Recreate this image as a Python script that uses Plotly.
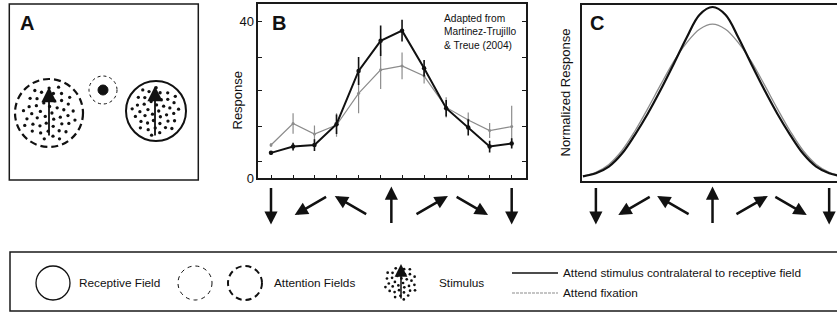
import numpy as np
import plotly.graph_objects as go

W, H = 837, 318
FONT = "Liberation Sans, Arial, sans-serif"
INK = "#111111"
GREY = "#8c8c8c"

# ---------------- Panel B data (Martinez-Trujillo & Treue 2004) ----------------
directions_b = [-180, -147, -115, -82, -49, -16, 16, 49, 82, 115, 147, 180]
attend_contra = [6.5, 8.1, 8.5, 13.8, 27.4, 35.1, 37.7, 28.1, 17.9, 13.0, 8.1, 8.9]
attend_contra_err = [0.5, 1.0, 1.5, 2.5, 3.6, 3.9, 2.8, 2.1, 2.1, 2.1, 1.5, 1.3]
attend_fix = [8.5, 14.0, 11.3, 13.6, 21.7, 27.7, 28.7, 26.1, 18.1, 14.9, 12.2, 13.2]
attend_fix_err = [0.5, 2.6, 2.2, 3.0, 5.1, 4.9, 3.4, 1.9, 2.6, 1.9, 1.9, 5.3]
yticks_b = [0, 4.24, 13.18, 22.3, 30.9, 40]
yticklabels_b = ["0", "", "", "", "", "40"]

# ---------------- Panel C data (normalized model responses) ----------------
directions_c = [-200, -180, -160, -140, -120, -100, -80, -60, -40, -20, 0,
                20, 40, 60, 80, 100, 120, 140, 160, 180, 200]
model_contra = [0.008, 0.026, 0.065, 0.14, 0.25, 0.375, 0.515, 0.665, 0.82, 0.955, 1.0,
                0.955, 0.82, 0.665, 0.515, 0.375, 0.25, 0.14, 0.065, 0.026, 0.008]
model_fix = [0.01, 0.032, 0.078, 0.158, 0.272, 0.405, 0.545, 0.68, 0.79, 0.87, 0.90,
             0.87, 0.79, 0.68, 0.545, 0.405, 0.272, 0.158, 0.078, 0.032, 0.01]

# motion directions shown as arrows under panels B and C
arrow_dirs = [-180, -120, -60, 0, 60, 120, 180]

legend_labels = ["Receptive Field", "Attention Fields", "Stimulus",
                 "Attend stimulus contralateral to receptive field", "Attend fixation"]


def fy(py):
    return 1 - py / H


fig = go.Figure()

# ---------- Panel B ----------
fig.add_trace(go.Scatter(
    x=directions_b, y=attend_fix, mode="lines+markers",
    line=dict(color=GREY, width=1.2), marker=dict(color=GREY, size=3),
    error_y=dict(type="data", array=attend_fix_err, thickness=1.2, width=0, color=GREY),
    xaxis="x", yaxis="y", showlegend=False))
fig.add_trace(go.Scatter(
    x=directions_b, y=attend_contra, mode="lines+markers",
    line=dict(color=INK, width=2), marker=dict(color=INK, size=4.5),
    error_y=dict(type="data", array=attend_contra_err, thickness=1.6, width=0, color=INK),
    xaxis="x", yaxis="y", showlegend=False))

# ---------- Panel C ----------
fig.add_trace(go.Scatter(
    x=directions_c, y=model_fix, mode="lines", line=dict(color=GREY, width=1.3, shape="spline"),
    xaxis="x2", yaxis="y2", showlegend=False))
fig.add_trace(go.Scatter(
    x=directions_c, y=model_contra, mode="lines", line=dict(color=INK, width=2.2, shape="spline"),
    xaxis="x2", yaxis="y2", showlegend=False))

# ---------- Panel A / legend schematic (pixel-space overlay axes) ----------
def dot_cloud(cx, cy, R, n):
    i = np.arange(n)
    r = R * np.sqrt((i + 0.5) / n)
    t = i * np.radians(137.508)
    return cx + r * np.cos(t), cy + r * np.sin(t)

shapes = []
annotations = []

stimuli = [(49, 113, 28, 46, 3.3), (156, 111, 25, 42, 3.3), (401, 283, 17, 34, 2.7)]
for cx, cy, R, n, sz in stimuli:
    xs, ys = dot_cloud(cx, cy, R, n)
    fig.add_trace(go.Scatter(x=xs, y=ys, mode="markers", marker=dict(color=INK, size=sz),
                             xaxis="x3", yaxis="y3", showlegend=False, hoverinfo="skip"))

def circle(cx, cy, r, width, dash="solid"):
    return dict(type="circle", xref="x3", yref="y3", x0=cx - r, x1=cx + r, y0=cy - r, y1=cy + r,
                line=dict(color=INK, width=width, dash=dash))

def rect(x0, y0, x1, y1):
    return dict(type="rect", xref="x3", yref="y3", x0=x0, x1=x1, y0=y0, y1=y1,
                line=dict(color="#1a1a1a", width=1.5))

shapes += [
    rect(9.3, 4, 198.3, 180),
    circle(49, 113, 34, 2.2, "7px,4px"),
    circle(103, 90, 14, 1, "3px,3px"),
    dict(type="circle", xref="x3", yref="y3", x0=98, x1=108, y0=85, y1=95,
         fillcolor=INK, line=dict(color=INK, width=1)),
    circle(156, 111, 30, 2),
    # legend box
    rect(10, 252, 850, 311),
    circle(53, 283, 17, 1.3),
    circle(195, 283, 17, 1, "4px,4px"),
    circle(245, 283, 17, 2, "6px,4px"),
    dict(type="line", xref="x3", yref="y3", x0=512, x1=558, y0=273, y1=273,
         line=dict(color=INK, width=1.6)),
    dict(type="line", xref="x3", yref="y3", x0=512, x1=558, y0=293, y1=293,
         line=dict(color=GREY, width=1.2, dash="3px,1px")),
]

# stimulus arrows (pointing up)
for x, ytail, yhead, w in [(49, 137, 87, 1.8), (155, 137, 86, 1.8), (401, 300, 264, 1.5)]:
    annotations.append(dict(x=x, y=yhead, xref="x3", yref="y3", ax=x, ay=ytail,
                            axref="x3", ayref="y3", showarrow=True, arrowhead=2,
                            arrowsize=1.7, arrowwidth=w, arrowcolor=INK, text=""))

# direction arrows under B and C
L = 38
for xref in ["x", "x2"]:
    for d in arrow_dirs:
        s, c = np.sin(np.radians(d)), np.cos(np.radians(d))
        annotations.append(dict(x=d, xref=xref, y=fy(205.5), yref="paper",
                                xshift=L / 2 * s, yshift=L / 2 * c,
                                ax=-L * s, ay=L * c, axref="pixel", ayref="pixel",
                                showarrow=True, arrowhead=2, arrowsize=1.05, arrowwidth=2.5,
                                arrowcolor=INK, text=""))

def text(x, y, s, size, **kw):
    d = dict(x=x, y=y, xref="x3", yref="y3", text=s, showarrow=False,
             font=dict(family=FONT, size=size, color=INK), xanchor="left", yanchor="middle")
    d.update(kw)
    return d

annotations += [
    text(26.5, 23, "<b>A</b>", 20, xanchor="center"),
    text(278.5, 23, "<b>B</b>", 20, xanchor="center"),
    text(597, 23, "<b>C</b>", 20, xanchor="center"),
    text(442, 31.7, "Adapted from<br>Martinez-Trujillo<br>&amp; Treue (2004)", 10.2, align="left"),
    text(236.5, 100, "Response", 13, xanchor="center", textangle=-90),
    text(565, 92.5, "Normalized Response", 13, xanchor="center", textangle=-90),
    text(77, 283, legend_labels[0], 11.8),
    text(272, 283, legend_labels[1], 11.8),
    text(437, 283, legend_labels[2], 11.8),
    text(561, 273, legend_labels[3], 11.8),
    text(561, 293, legend_labels[4], 11.8),
]

axis_line = dict(showline=True, linecolor="#1a1a1a", linewidth=1.5, showgrid=False,
                 zeroline=False, automargin=False)

fig.update_layout(
    width=W, height=H, autosize=False,
    margin=dict(l=0, r=0, t=0, b=0, pad=0, autoexpand=False),
    paper_bgcolor="white", plot_bgcolor="rgba(0,0,0,0)",
    font=dict(family=FONT, color=INK),
    xaxis=dict(domain=[258.3 / W, 526 / W], range=[-199, 201.4], anchor="y",
               mirror=True, ticks="inside", ticklen=4, tickcolor="#1a1a1a",
               tickvals=directions_b, showticklabels=False, **axis_line),
    yaxis=dict(domain=[fy(178.3), fy(4)], range=[0, 44.5], anchor="x",
               mirror="ticks", ticks="inside", ticklen=4, tickcolor="#1a1a1a",
               tickvals=yticks_b, ticktext=yticklabels_b,
               tickfont=dict(size=13, family=FONT, color=INK), **axis_line),
    xaxis2=dict(domain=[581.5 / W, 1], range=[-202.2, 192.1], anchor="y2",
                mirror=True, showticklabels=False, ticks="", **axis_line),
    yaxis2=dict(domain=[fy(181), fy(5)], range=[-0.0193, 1.0117], anchor="x2",
                showticklabels=False, ticks="", **axis_line),
    xaxis3=dict(domain=[0, 1], range=[0, W], anchor="y3", visible=False,
                fixedrange=True, automargin=False),
    yaxis3=dict(domain=[0, 1], range=[H, 0], anchor="x3", visible=False,
                fixedrange=True, automargin=False),
    shapes=shapes,
    annotations=annotations,
)

fig.write_html(
    "out.html",
    config={"displayModeBar": False},
    post_script="document.body.style.margin='0';document.body.style.overflow='hidden';",
)
